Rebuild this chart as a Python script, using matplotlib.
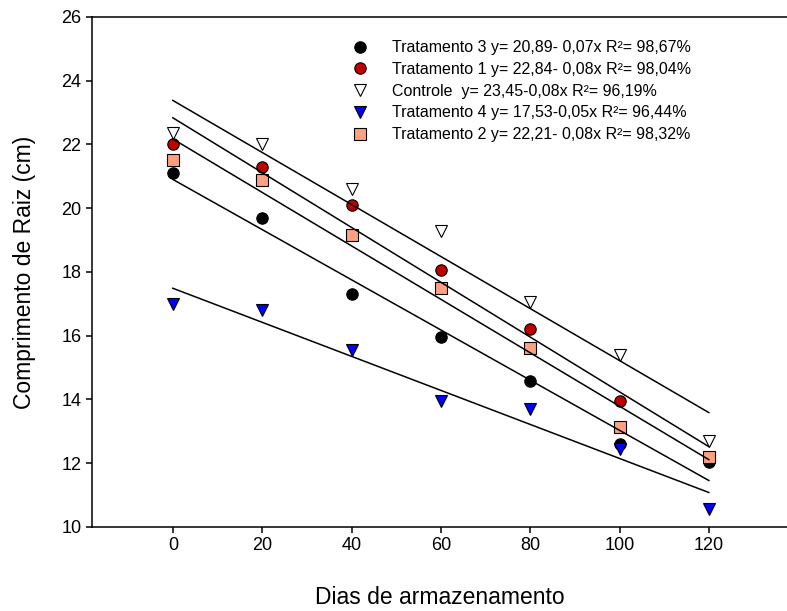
import numpy as np
import matplotlib.pyplot as plt

plt.rcParams['font.family'] = ['Liberation Sans', 'DejaVu Sans']

# dias de armazenamento e comprimento de raiz (cm)
dias = [0, 20, 40, 60, 80, 100, 120]
trat3 = [21.1, 19.7, 17.3, 15.95, 14.57, 12.6, 12.05]
trat1 = [22.0, 21.3, 20.1, 18.05, 16.2, 13.95, 12.15]
controle = [22.35, 22.0, 20.6, 19.3, 17.05, 15.4, 12.7]
trat4 = [17.0, 16.8, 15.55, 13.95, 13.7, 12.45, 10.55]
trat2 = [21.5, 20.9, 19.15, 17.5, 15.6, 13.15, 12.2]

labels = ['Tratamento 3 y= 20,89- 0,07x R\u00b2= 98,67%',
          'Tratamento 1 y= 22,84- 0,08x R\u00b2= 98,04%',
          'Controle  y= 23,45-0,08x R\u00b2= 96,19%',
          'Tratamento 4 y= 17,53-0,05x R\u00b2= 96,44%',
          'Tratamento 2 y= 22,21- 0,08x R\u00b2= 98,32%']

series = [trat3, trat1, controle, trat4, trat2]
markers = ['o', 'o', 'v', 'v', 's']
colors = ['black', '#c00000', 'white', '#0000ff', '#ffa080']
sizes = [8.2, 8.2, 9.2, 9.2, 8.0]

fig = plt.figure(figsize=(7.87, 6.11), dpi=100)
ax = fig.add_axes([0.1169, 0.1375, 0.8831, 0.8347])

x = np.array(dias)
for y, m, c, s, lab in zip(series, markers, colors, sizes, labels):
    ax.plot(x, y, linestyle='none', marker=m, markersize=s,
            markerfacecolor=c, markeredgecolor='black', markeredgewidth=0.8,
            label=lab, zorder=2)
    b, a = np.polyfit(x, y, 1)
    xx = np.array([0, 120])
    ax.plot(xx, a + b * xx, color='black', lw=1.1, zorder=3)

ax.set_xlim(-18.1, 137.5)
ax.set_ylim(10, 26)
ax.set_xticks([0, 20, 40, 60, 80, 100, 120])
ax.set_yticks(range(10, 27, 2))
ax.tick_params(labelsize=13, length=4, width=1.1, direction='out')
ax.spines['right'].set_visible(False)
for sp in ['left', 'top', 'bottom']:
    ax.spines[sp].set_linewidth(1.1)

ax.set_xlabel('Dias de armazenamento', fontsize=16.5, labelpad=23)
ax.set_ylabel('Comprimento de Raiz (cm)', fontsize=16.5, labelpad=18)

ax.legend(loc='upper left', bbox_to_anchor=(0.447, 0.934),
          bbox_transform=fig.transFigure, frameon=False, fontsize=11.5,
          handlelength=1.0, handletextpad=1.5, labelspacing=0.42,
          borderpad=0, borderaxespad=0)

fig.savefig('out.png', dpi=100)
